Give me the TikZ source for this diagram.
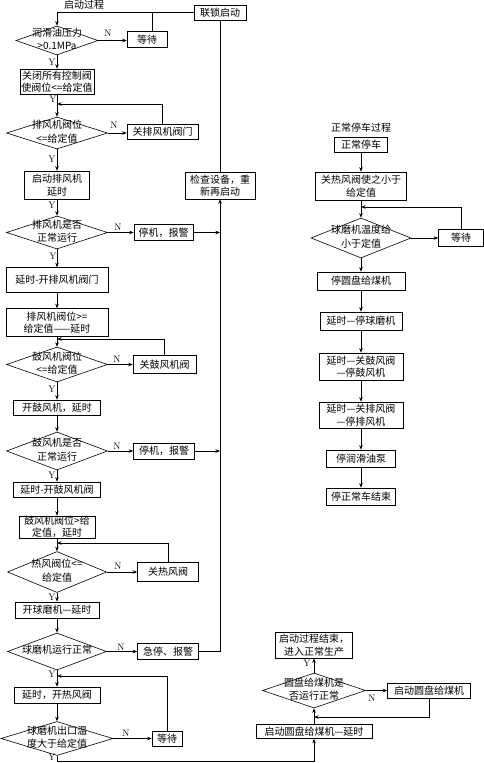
\documentclass[tikz,border=0pt]{standalone}
\usepackage{fontspec}
\usetikzlibrary{shapes.geometric,arrows.meta}
\newfontfamily\cjkf{Noto Sans CJK SC}
\newcommand{\dtx}[1]{\makebox[0pt]{\smash{\raisebox{-2.2pt}{\renewcommand\arraystretch{1.1}\begin{tabular}{@{}c@{}}#1\end{tabular}}}}}
\begin{document}
\begin{tikzpicture}[x=1pt,y=-1pt,
  line width=0.6pt,
  every node/.style={font=\cjkf\fontsize{10}{12.5}\selectfont},
  box/.style={draw, rectangle, inner sep=0pt, align=center},
  dia/.style={draw, diamond, inner sep=0pt},
  yn/.style={font=\fontsize{9.5}{10}\selectfont, inner sep=0pt},
  lbl/.style={inner sep=0pt},
  arr/.style={-{Stealth[length=4.5pt,width=3.5pt]}}]
\useasboundingbox (0,0) rectangle (484,763);
% ---- left column ----
\node[box, minimum width=52pt, minimum height=15pt] (ls) at (220,12.5) {联锁启动};
\node[lbl] (t1) at (84,5) {启动过程};
\node[dia, minimum width=82pt, minimum height=29pt] (d1) at (57,40.5) {\dtx{润滑油压力\\>0.1MPa}};
\node[box, minimum width=40pt, minimum height=16pt] (w1) at (147,39.5) {等待};
\node[box, minimum width=74pt, minimum height=25pt] (b1) at (57,81.5) {关闭所有控制阀\\使阀位<=给定值};
\coordinate (j1) at (57,104);
\node[dia, minimum width=101pt, minimum height=32pt] (d2) at (57,133) {\dtx{排风机阀位\\<=给定值}};
\node[box, minimum width=71pt, minimum height=15pt] (b2) at (162.5,132) {关排风机阀门};
\node[box, minimum width=65pt, minimum height=28pt] (b3) at (57,185) {启动排风机\\延时};
\node[dia, minimum width=101pt, minimum height=33pt] (d3) at (57,232.5) {\dtx{排风机是否\\正常运行}};
\node[box, minimum width=59pt, minimum height=16pt] (b4) at (163.5,232.5) {停机，报警};
\node[box, minimum width=70pt, minimum height=27pt] (b5) at (220,185.5) {检查设备，重\\新再启动};
\node[box, minimum width=102pt, minimum height=25pt] (b6) at (57,280) {延时-开排风机阀门};
\node[box, minimum width=102pt, minimum height=28pt] (b7) at (57,322.5) {排风机阀位>=\\给定值——延时};
\coordinate (j2) at (57,339);
\node[dia, minimum width=101pt, minimum height=35pt] (d4) at (57,364.5) {\dtx{鼓风机阀位\\<=给定值}};
\node[box, minimum width=63pt, minimum height=18pt] (b8) at (164.5,364.5) {关鼓风机阀};
\node[box, minimum width=87pt, minimum height=15pt] (b9) at (57,407.5) {开鼓风机，延时};
\node[dia, minimum width=101pt, minimum height=38pt] (d5) at (57,451) {\dtx{鼓风机是否\\正常运行}};
\node[box, minimum width=61pt, minimum height=16pt] (b10) at (164,451) {停机，报警};
\node[box, minimum width=87pt, minimum height=15pt] (b11) at (57,489.5) {延时-开鼓风机阀};
\node[box, minimum width=76pt, minimum height=22pt] (b12) at (57,527) {鼓风机阀位>给\\定值，延时};
\coordinate (j3) at (57,543);
\node[dia, minimum width=99pt, minimum height=41pt] (d6) at (57,572) {\dtx{热风阀位<=\\给定值}};
\node[box, minimum width=61pt, minimum height=19pt] (b13) at (168,572) {关热风阀};
\node[box, minimum width=84pt, minimum height=16pt] (b14) at (57,610) {开球磨机—延时};
\node[dia, minimum width=99pt, minimum height=37pt] (d7) at (57,651.5) {\dtx{球磨机运行正常}};
\node[box, minimum width=61pt, minimum height=16pt] (b15) at (168,651.5) {急停、报警};
\coordinate (j4) at (57,676);
\node[box, minimum width=86pt, minimum height=16pt] (b16) at (57,695) {延时，开热风阀};
\node[dia, minimum width=112pt, minimum height=34pt] (d8) at (57,738.5) {\dtx{球磨机出口温\\度大于给定值}};
\node[box, minimum width=30pt, minimum height=15pt] (b17) at (167,738.5) {等待};
% ---- bottom right ----
\node[box, minimum width=116pt, minimum height=14pt] (b18) at (314,731.5) {启动圆盘给煤机—延时};
\node[dia, minimum width=103pt, minimum height=35pt] (d9) at (314,690.5) {\dtx{圆盘给煤机是\\否运行正常}};
\node[box, minimum width=83pt, minimum height=15pt] (b19) at (429,690.5) {启动圆盘给煤机};
\node[box, minimum width=77pt, minimum height=26pt] (b20) at (314,645) {启动过程结束，\\进入正常生产};
\coordinate (j6) at (314,717);
\coordinate (c2) at (314,761);
% ---- right column ----
\node[lbl] (t2) at (361,128) {正常停车过程};
\node[box, minimum width=53pt, minimum height=15pt] (b21) at (361,144.5) {正常停车};
\node[box, minimum width=91pt, minimum height=28pt] (b22) at (361,186) {关热风阀使之小于\\给定值};
\coordinate (j5) at (361,207);
\node[dia, minimum width=100pt, minimum height=40pt] (d10) at (361,238) {\dtx{球磨机温度给\\小于定值}};
\node[box, minimum width=45pt, minimum height=17pt] (b23) at (461,238) {等待};
\node[box, minimum width=88pt, minimum height=18pt] (b24) at (361,281) {停圆盘给煤机};
\node[box, minimum width=82pt, minimum height=18pt] (b25) at (361,321) {延时—停球磨机};
\node[box, minimum width=84pt, minimum height=27pt] (b26) at (361,366.5) {延时—关鼓风阀\\—停鼓风机};
\node[box, minimum width=84pt, minimum height=26pt] (b27) at (361,415) {延时—关排风阀\\—停排风机};
\node[box, minimum width=69pt, minimum height=17pt] (b28) at (361,458.5) {停润滑油泵};
\node[box, minimum width=69pt, minimum height=17pt] (b29) at (361,496.5) {停正常车结束};
% ---- Y / N labels ----
\node[yn] (y1) at (52,62) {Y};
\node[yn] (y2) at (53,99) {Y};
\node[yn] (y3) at (52,159) {Y};
\node[yn] (y4) at (52,205) {Y};
\node[yn] (y5) at (53,256) {Y};
\node[yn] (y6) at (52,389) {Y};
\node[yn] (y7) at (52,475) {Y};
\node[yn] (y8) at (52,597) {Y};
\node[yn] (y9) at (52,674) {Y};
\node[yn] (y10) at (52,757) {Y};
\node[yn] (y11) at (307,663) {Y};
\node[yn] (n1) at (108,33) {N};
\node[yn] (n2) at (114,125) {N};
\node[yn] (n3) at (118,227) {N};
\node[yn] (n4) at (117,359) {N};
\node[yn] (n5) at (117,446) {N};
\node[yn] (n6) at (118,566) {N};
\node[yn] (n7) at (121,647) {N};
\node[yn] (n8) at (126,733) {N};
\node[yn] (n9) at (372,698) {N};
% ---- connectors: left ----
\draw[arr] (ls.west) -| (d1.north);
\draw ([xshift=5pt]w1.north) -- ([xshift=5pt]w1.north |- ls.west);
\draw[arr] (d1.east) -- (d1.east -| w1.west);
\draw[arr] (d1.south) -- (b1.north);
\draw[arr] (b1.south) -- (d2.north);
\draw[arr] (d2.east) -- (d2.east -| b2.west);
\draw[arr] (b2.north) |- (j1);
\draw[arr] (d2.south) -- (b3.north);
\draw[arr] (b3.south) -- (d3.north);
\draw[arr] (d3.east) -- (d3.east -| b4.west);
\draw[arr] (b4.east) -- (b4.east -| b5.south);
\draw[arr] (b15.east) -| (b5.south);
\draw (b5.north) -- (ls.south);
\draw[arr] (d3.south) -- (b6.north);
\draw[arr] (b6.south) -- (b7.north);
\draw[arr] (b7.south) -- (d4.north);
\draw[arr] (b8.north) |- (j2);
\draw[arr] (d4.east) -- (d4.east -| b8.west);
\draw[arr] (d4.south) -- (b9.north);
\draw[arr] (b9.south) -- (d5.north);
\draw[arr] (d5.east) -- (d5.east -| b10.west);
\draw[arr] (b10.east) -- (b10.east -| b5.south);
\draw[arr] (d5.south) -- (b11.north);
\draw[arr] (b11.south) -- (b12.north);
\draw[arr] (b12.south) -- (d6.north);
\draw[arr] (b13.north) |- (j3);
\draw[arr] (d6.east) -- (d6.east -| b13.west);
\draw[arr] (d6.south) -- (b14.north);
\draw[arr] (b14.south) -- (d7.north);
\draw[arr] (d7.east) -- (d7.east -| b15.west);
\draw[arr] (d7.south) -- (b16.north);
\draw[arr] (b17.north) |- (j4);
\draw[arr] (b16.south) -- (d8.north);
\draw[arr] (d8.east) -- (d8.east -| b17.west);
\draw[arr] (d8.south) |- (c2) -- (b18.south);
% ---- bottom right ----
\draw[arr] (b18.north) -- (d9.south);
\draw[arr] (d9.north) -- (b20.south);
\draw[arr] (d9.east) -- (d9.east -| b19.west);
\draw[arr] (b19.south) |- (j6);
% ---- right column ----
\draw[arr] (b21.south) -- (b22.north);
\draw[arr] (b22.south) -- (d10.north);
\draw[arr] (b23.north) |- (j5);
\draw[arr] (d10.east) -- (d10.east -| b23.west);
\draw[arr] (d10.south) -- (b24.north);
\draw[arr] (b24.south) -- (b25.north);
\draw[arr] (b25.south) -- (b26.north);
\draw[arr] (b26.south) -- (b27.north);
\draw[arr] (b27.south) -- (b28.north);
\draw[arr] (b28.south) -- (b29.north);
\end{tikzpicture}
\end{document}
